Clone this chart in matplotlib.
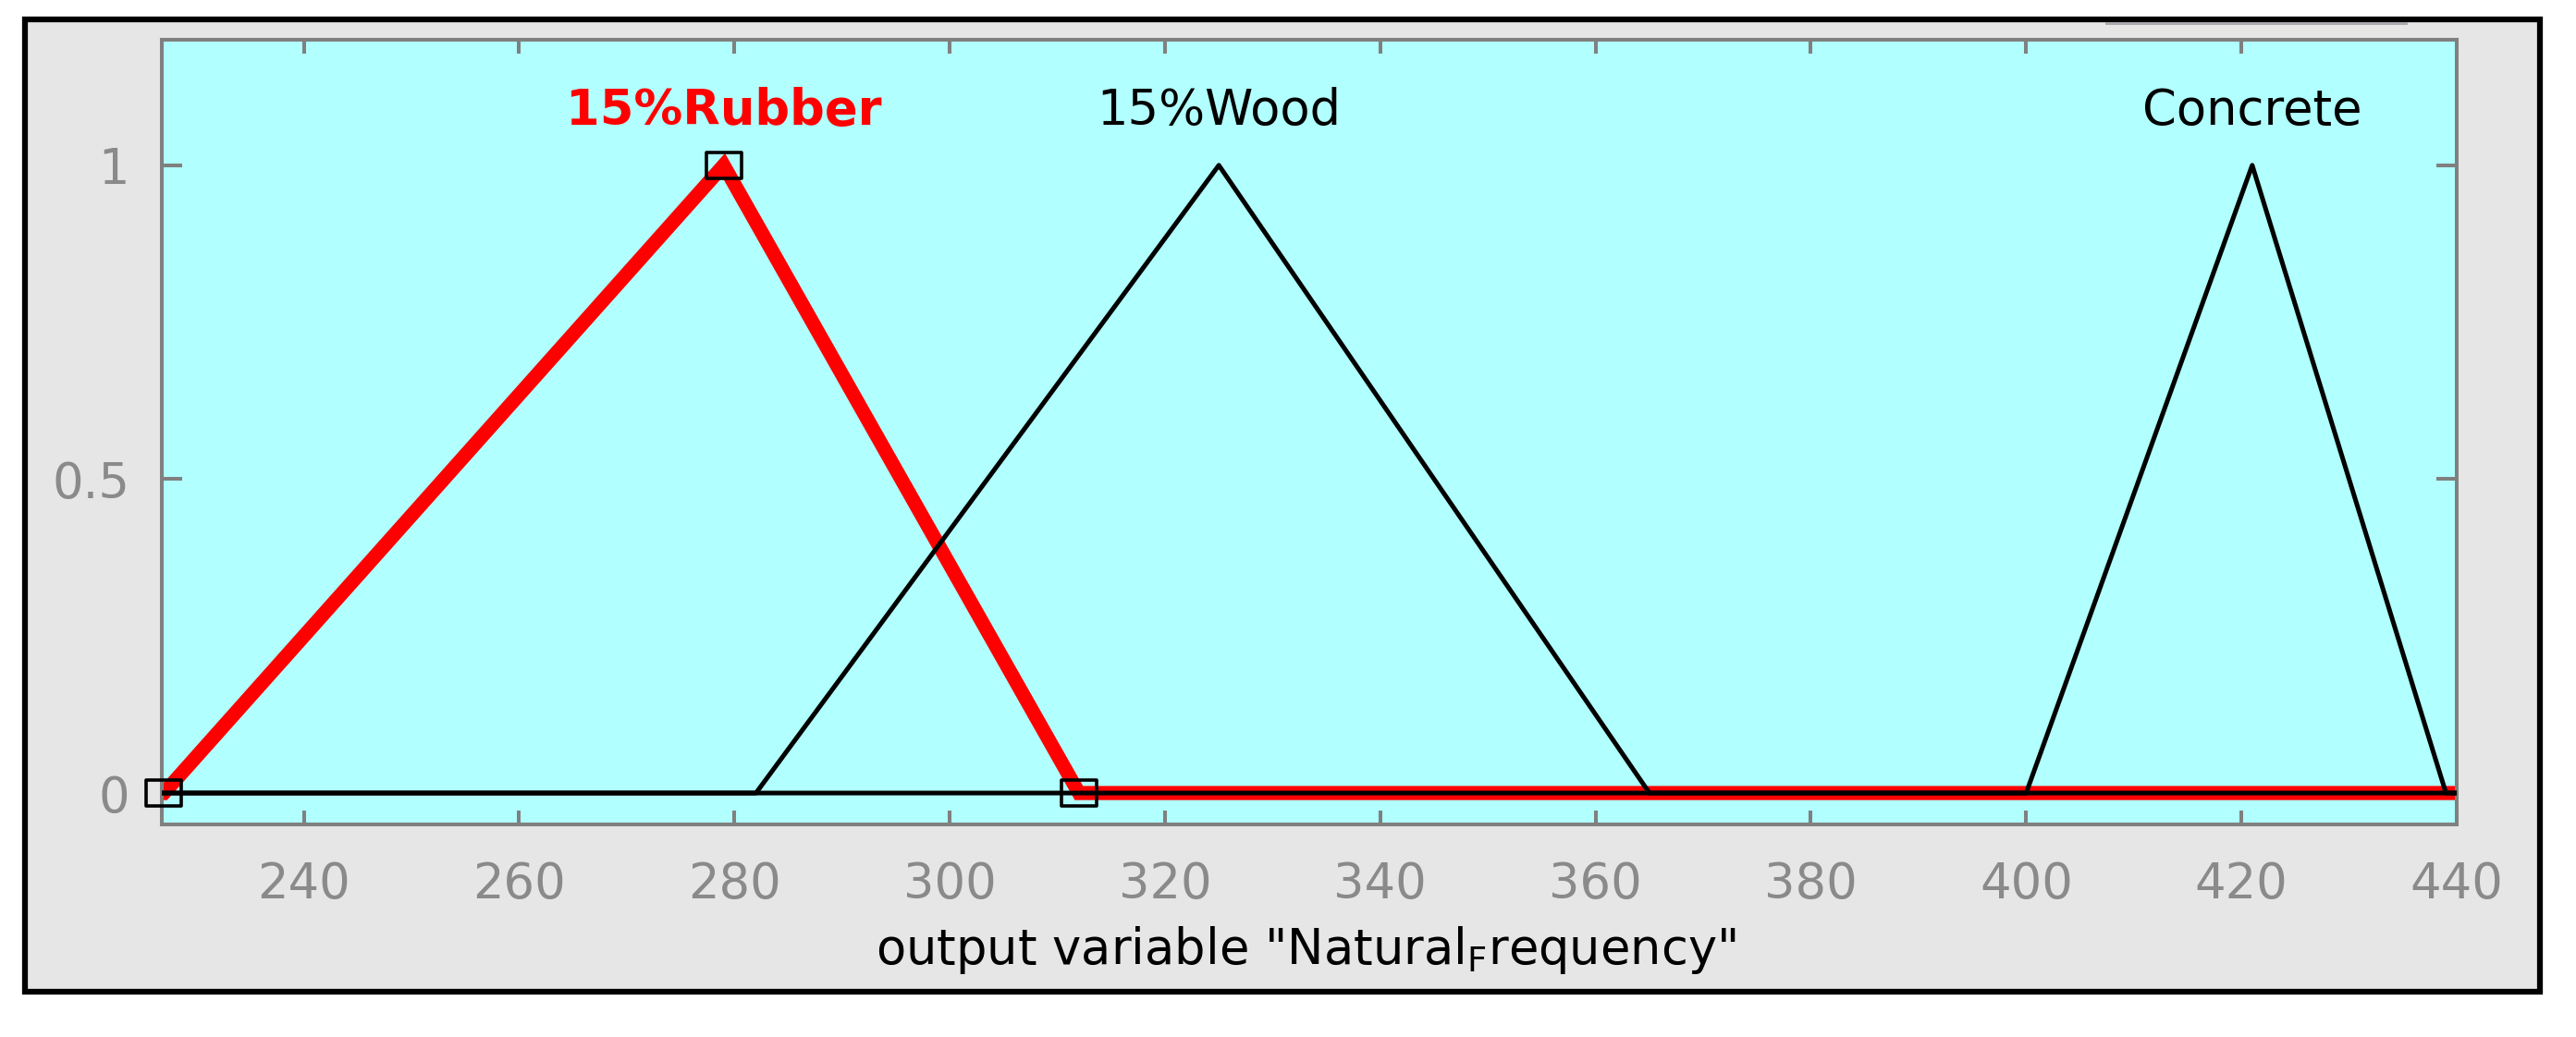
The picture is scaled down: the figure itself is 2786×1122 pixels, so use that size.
#!/usr/bin/env python3
"""Triangular membership functions of the output variable Natural_Frequency."""
import matplotlib

matplotlib.use("Agg")
import matplotlib.pyplot as plt
from matplotlib.patches import Rectangle
from matplotlib.path import Path

# --- data ---
x_range = [226.8, 440.0]
mf_names = ["15%Rubber", "15%Wood", "Concrete"]
mf_left = [227, 282, 400]
mf_peak = [279, 325, 421]
mf_right = [312, 365, 439]
selected = 0  # the highlighted (red) membership function
x_ticks = [240, 260, 280, 300, 320, 340, 360, 380, 400, 420, 440]
y_ticks = [0, 0.5, 1]
y_tick_labels = ["0", "0.5", "1"]

GREY = "#808080"
CYAN = "#b1ffff"
PANEL = "#e6e6e6"

plt.rcParams["font.family"] = ["DejaVu Sans"]

fig = plt.figure(figsize=(27.86, 11.22), dpi=100)

# outer framed panel (behind the axes)
fig.patches.append(
    Rectangle((0.00969, 0.04367), 0.97631, 0.93717, transform=fig.transFigure,
              facecolor=PANEL, edgecolor="black", linewidth=4.5, zorder=-2)
)
fig.patches.append(
    Rectangle((0.8173, 0.97594), 0.1174, 0.0027, transform=fig.transFigure,
              facecolor="#a8a8b0", edgecolor="none", zorder=-1)
)

ax = fig.add_axes([0.0628, 0.205, 0.8909, 0.7567])
ax.set_facecolor(CYAN)
ax.set_xlim(*x_range)
ax.set_ylim(-0.05, 1.2)

xmin, xmax = x_range

# wide rectangle used for the vertex markers (the picture is stretched sideways)
box = Path([(-0.65, -0.5), (0.65, -0.5), (0.65, 0.5), (-0.65, 0.5), (-0.65, -0.5)],
           [Path.MOVETO, Path.LINETO, Path.LINETO, Path.LINETO, Path.CLOSEPOLY])

for i, name in enumerate(mf_names):
    xs = [xmin, mf_left[i], mf_peak[i], mf_right[i], xmax]
    ys = [0, 0, 1, 0, 0]
    if i == selected:
        ax.plot(xs, ys, color="#ff0000", linewidth=11, solid_joinstyle="miter",
                solid_capstyle="butt", zorder=2)
        ax.text(mf_peak[i], 1.064, name, color="#ff0000", fontsize=38,
                fontweight="bold", ha="center", va="baseline")
    else:
        ax.plot(xs, ys, color="black", linewidth=3.6, zorder=3)
        ax.text(mf_peak[i], 1.064, name, color="black", fontsize=38,
                ha="center", va="baseline")

# vertex markers of the selected function
ax.plot([mf_left[selected], mf_peak[selected], mf_right[selected]], [0, 1, 0],
        linestyle="none", marker=box, markersize=27, markerfacecolor="none",
        markeredgecolor="black", markeredgewidth=2.6, zorder=4, clip_on=False)

ax.set_xticks(x_ticks)
ax.set_yticks(y_ticks)
ax.set_yticklabels(y_tick_labels)
ax.tick_params(axis="both", direction="in", colors=GREY, labelcolor="#8a8a8a",
               labelsize=38, width=2.9, top=True, right=True)
ax.tick_params(axis="x", length=10.8, pad=28)
ax.tick_params(axis="y", length=16, pad=25)
for sp in ax.spines.values():
    sp.set_color(GREY)
    sp.set_linewidth(2.9)

ax.set_xlabel(r'output variable "Natural$_\mathregular{F}$requency"',
              fontsize=38, color="black", va="baseline")
ax.xaxis.set_label_coords(0.4985, -0.178)

fig.savefig("out.png", dpi=100, facecolor="white")
